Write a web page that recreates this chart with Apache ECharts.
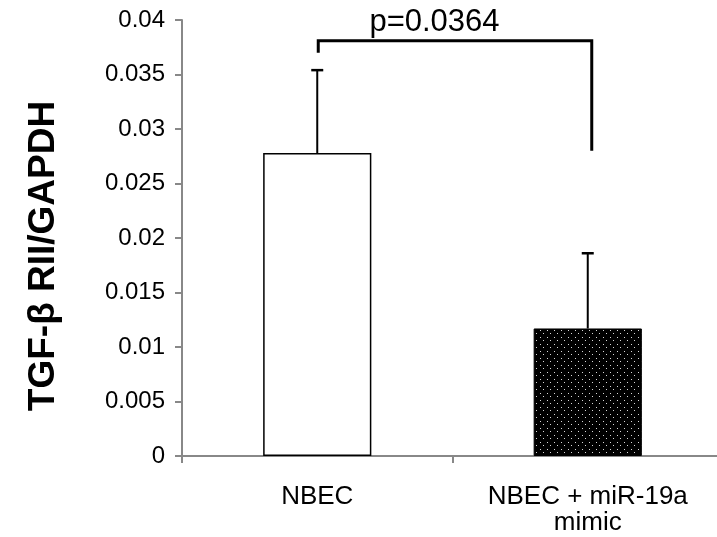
<!DOCTYPE html>
<html><head><meta charset="utf-8">
<script src="https://cdn.jsdelivr.net/npm/echarts@6/dist/echarts.min.js"></script>
<style>html,body{margin:0;padding:0;background:#fff;overflow:hidden}#c{width:730px;height:537px}</style>
</head><body><div id="c"></div>
<script>
var categories = ['NBEC', 'NBEC + miR-19a\nmimic'];
var means = [0.0278, 0.0117];
var errors = [0.0076, 0.0069];
var yTicks = {min: 0, max: 0.04, interval: 0.005};
var yTitle = 'TGF-β RII/GAPDH';
var bracket = {y: 0.0381, leftEnd: 0.0370, rightEnd: 0.0280, label: 'p=0.0364'};

var FONT = '"Liberation Sans", Arial, sans-serif';

// dotted pattern for second bar
var pc = document.createElement('canvas');
pc.width = 7; pc.height = 7;
var px = pc.getContext('2d');
px.fillStyle = '#000'; px.fillRect(0, 0, 7, 7);
px.fillStyle = '#d8d8d8';
px.fillRect(1, 1, 1, 1);
px.fillRect(4, 4, 1, 1);

var chart = echarts.init(document.getElementById('c'), null, {renderer: 'canvas'});
chart.setOption({
  animation: false,
  backgroundColor: '#fff',
  grid: {left: 182, top: 20, width: 541, height: 436, containLabel: false},
  graphic: [{
    type: 'text', x: 44, y: 256, rotation: Math.PI / 2,
    style: {text: yTitle, fill: '#000', font: 'bold 37px ' + FONT, textAlign: 'center', textVerticalAlign: 'middle'}
  }],
  xAxis: {
    type: 'category', data: categories,
    axisLine: {lineStyle: {color: '#888', width: 2}},
    axisTick: {show: true, alignWithLabel: false, length: 7, lineStyle: {color: '#888', width: 2}},
    axisLabel: {color: '#000', fontSize: 26, fontFamily: FONT, margin: 28, lineHeight: 26}
  },
  yAxis: {
    type: 'value', min: yTicks.min, max: yTicks.max, interval: yTicks.interval,
    axisLine: {show: true, lineStyle: {color: '#888', width: 2}},
    axisTick: {show: true, length: 7, lineStyle: {color: '#888', width: 2}},
    splitLine: {show: false},
    axisLabel: {color: '#000', fontSize: 24, fontFamily: FONT, margin: 17,
      formatter: function (v) { return String(+v.toFixed(4)); }}
  },
  series: [
    {
      type: 'bar', barWidth: '40%',
      data: means.map(function (v, i) {
        return {value: v, itemStyle: i === 0
          ? {color: '#fff', borderColor: '#000', borderWidth: 1.5}
          : {color: {image: pc, repeat: 'repeat'}, borderColor: '#000', borderWidth: 1}};
      }),
      z: 2
    },
    {
      type: 'custom', z: 3,
      data: means.map(function (v, i) { return [i, v, v + errors[i]]; }),
      renderItem: function (params, api) {
        var lo = api.coord([api.value(0), api.value(1)]);
        var hi = api.coord([api.value(0), api.value(2)]);
        var w = 6;
        return {type: 'group', children: [
          {type: 'line', shape: {x1: lo[0], y1: lo[1], x2: hi[0], y2: hi[1]}, style: {stroke: '#000', lineWidth: 2}},
          {type: 'line', shape: {x1: hi[0] - w, y1: hi[1], x2: hi[0] + w, y2: hi[1]}, style: {stroke: '#000', lineWidth: 2.5}}
        ]};
      }
    },
    {
      type: 'custom', z: 4,
      data: [[0, 1, bracket.y, bracket.leftEnd, bracket.rightEnd]],
      renderItem: function (params, api) {
        var a = api.coord([0, api.value(2)]);
        var b = api.coord([1, api.value(2)]);
        var aEnd = api.coord([0, api.value(3)]);
        var bEnd = api.coord([1, api.value(4)]);
        return {type: 'group', children: [
          {type: 'polyline', shape: {points: [[aEnd[0] + 1, aEnd[1]], [a[0] + 1, a[1]], [b[0] + 4, b[1]], [bEnd[0] + 4, bEnd[1]]]},
            style: {stroke: '#000', lineWidth: 3, fill: null}},
          {type: 'text', x: (a[0] + b[0]) / 2 - 18, y: a[1] - 3,
            style: {text: bracket.label, fill: '#000', font: '31px ' + FONT, textAlign: 'center', textVerticalAlign: 'bottom'}}
        ]};
      }
    }
  ]
});
</script></body></html>
